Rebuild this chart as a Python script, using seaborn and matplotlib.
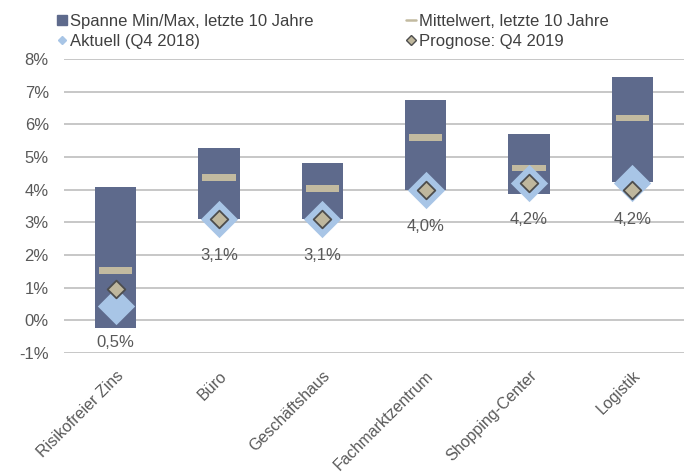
import numpy as np
import matplotlib.pyplot as plt
from matplotlib.lines import Line2D
from matplotlib.ticker import FuncFormatter
import seaborn as sns

kategorien = ["Risikofreier Zins", "Büro", "Geschäftshaus", "Fachmarktzentrum",
              "Shopping-Center", "Logistik"]
spanne_min = [-0.23, 3.11, 3.11, 4.0, 3.88, 4.23]
spanne_max = [4.08, 5.29, 4.83, 6.73, 5.69, 7.46]
mittelwert = [1.53, 4.38, 4.03, 5.59, 4.67, 6.2]
aktuell = [0.45, 3.1, 3.1, 4.0, 4.2, 4.2]
prognose = [0.95, 3.1, 3.1, 4.0, 4.2, 4.0]

c_bar = "#5e6a8c"
c_mean = "#c2baa0"
c_akt = "#a8c5e6"
c_prog = "#bfb79d"
c_edge = "#4d4d4d"
c_text = "#595959"

sns.set_theme(style="whitegrid")
plt.rcParams['font.family'] = ['Liberation Sans', 'DejaVu Sans']

fig, ax = plt.subplots(figsize=(6.93, 4.73), dpi=100)
fig.subplots_adjust(left=0.0924, right=0.987, bottom=0.2537, top=0.8753)

# Spanne als schwebende Balken
hoehe = np.array(spanne_max) - np.array(spanne_min)
sns.barplot(x=kategorien, y=hoehe, bottom=spanne_min, color=c_bar, width=0.4,
            saturation=1, errorbar=None, linewidth=0, ax=ax, zorder=2)

# Mittelwert als kurzer Querbalken
dicke = 0.2
sns.barplot(x=kategorien, y=[dicke] * len(kategorien),
            bottom=np.array(mittelwert) - dicke / 2, color=c_mean, width=0.32,
            saturation=1, errorbar=None, linewidth=0, ax=ax, zorder=3)

sns.stripplot(x=kategorien, y=aktuell, jitter=False, marker="D", size=19,
              color=c_akt, linewidth=0, ax=ax, zorder=4)
sns.stripplot(x=kategorien, y=prognose, jitter=False, marker="D", size=9,
              color=c_prog, edgecolor=c_edge, linewidth=1.3, ax=ax, zorder=5)

for i, v in enumerate(aktuell):
    ax.annotate(f"{v:.1f}%".replace(".", ","), (i, v), xytext=(0, -26.5),
                textcoords="offset points", ha="center", va="center",
                fontsize=12, color=c_text)

ax.set_ylim(-1, 8)
ax.set_xlim(-0.5, len(kategorien) - 0.5)
ax.set_yticks(range(-1, 9))
ax.yaxis.set_major_formatter(FuncFormatter(lambda v, p: f"{v:.0f}%"))
ax.grid(axis="y", color="#bebebe", linewidth=1.2)
ax.grid(axis="x", visible=False)
ax.set_axisbelow(True)
for s in ax.spines.values():
    s.set_visible(False)
ax.tick_params(axis="y", length=0, pad=11, labelsize=12, labelcolor=c_text)
ax.tick_params(axis="x", length=0, pad=11, labelsize=11.5, labelcolor=c_text)
plt.setp(ax.get_xticklabels(), rotation=45, ha="right", rotation_mode="anchor")
ax.set_xlabel("")
ax.set_ylabel("")

handles = [
    Line2D([], [], marker="s", color=c_bar, linestyle="none", markersize=6.5),
    Line2D([], [], marker="D", color=c_akt, linestyle="none", markersize=4),
    Line2D([], [], color=c_mean, linewidth=1.8),
    Line2D([], [], marker="D", markerfacecolor=c_prog, markeredgecolor=c_edge,
           markeredgewidth=1, linestyle="none", markersize=4.7),
]
labels = ["Spanne Min/Max, letzte 10 Jahre", "Aktuell (Q4 2018)",
          "Mittelwert, letzte 10 Jahre", "Prognose: Q4 2019"]
fig.legend(handles, labels, ncol=2, loc="upper left",
           bbox_to_anchor=(57 / 693, 1 - 14 / 473), frameon=False,
           borderpad=0, borderaxespad=0, handlelength=0.6, handletextpad=0.2,
           columnspacing=5.5, labelspacing=0.3, fontsize=12,
           labelcolor="#404040")

fig.savefig("out.png", dpi=100)
